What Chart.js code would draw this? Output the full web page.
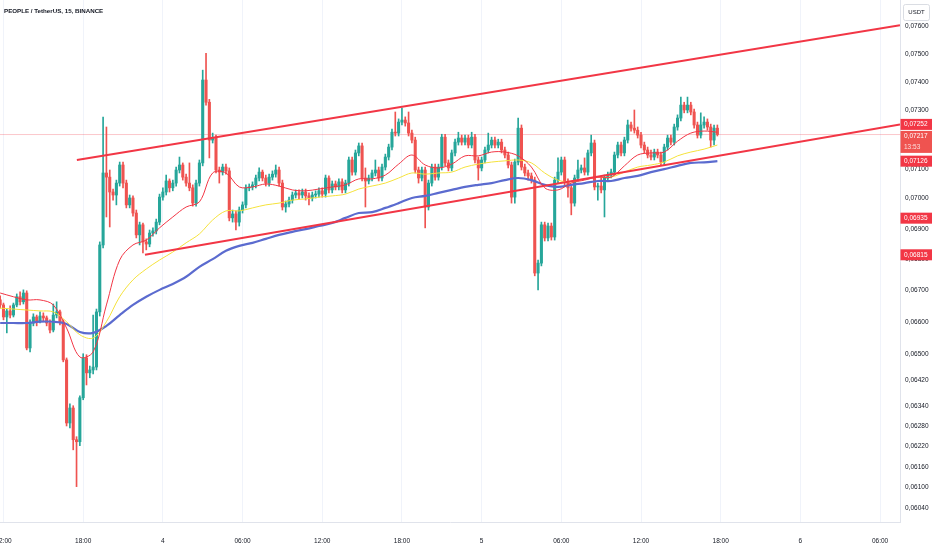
<!DOCTYPE html>
<html>
<head>
<meta charset="utf-8">
<title>PEOPLE / TetherUS, 15, BINANCE</title>
<script src="https://cdn.jsdelivr.net/npm/chart.js@4.4.1/dist/chart.umd.min.js"></script>
<style>
  html, body { margin: 0; padding: 0; background: #ffffff; }
  #wrap { width: 932px; height: 550px; position: relative; }
</style>
</head>
<body>
<div id="wrap"><canvas id="myChart"></canvas></div>
<script>
// 15 min candles, candle index 0 = 12:00 on the 3rd
const chartTitle = 'PEOPLE / TetherUS, 15, BINANCE';
const firstIndex = -1;

const opens = [
  0.06670,0.06654,0.06616,0.06635,0.06622,0.06654,0.06680,0.06664,0.06692,0.06519,
  0.06597,0.06616,0.06604,0.06619,0.06613,0.06597,0.06575,0.06622,0.06632,0.06601,
  0.06482,0.06290,0.06335,0.06240,0.06234,0.06366,0.06488,0.06442,0.06451,0.06460,
  0.06632,0.06847,0.07086,0.07072,0.07022,0.07012,0.07052,0.07113,0.07052,0.06979,
  0.07002,0.06952,0.06880,0.06913,0.06857,0.06850,0.06886,0.06893,0.06922,0.07005,
  0.07022,0.07059,0.07036,0.07052,0.07096,0.07113,0.07072,0.07052,0.07036,0.06985,
  0.07052,0.07120,0.07407,0.07329,0.07198,0.07205,0.07096,0.07089,0.07106,0.07093,
  0.06936,0.06949,0.06922,0.06962,0.06979,0.07036,0.07039,0.07046,0.07069,0.07089,
  0.07069,0.07052,0.07072,0.07082,0.07096,0.07052,0.06972,0.06982,0.06995,0.07012,
  0.07019,0.07012,0.07022,0.07009,0.07002,0.07012,0.07015,0.07026,0.07015,0.07069,
  0.07029,0.07049,0.07039,0.07056,0.07029,0.07052,0.07130,0.07089,0.07154,0.07178,
  0.07069,0.07059,0.07069,0.07086,0.07096,0.07069,0.07106,0.07140,0.07174,0.07225,
  0.07222,0.07260,0.07267,0.07257,0.07222,0.07198,0.07096,0.07069,0.07096,0.06972,
  0.07052,0.07106,0.07072,0.07106,0.07208,0.07120,0.07103,0.07154,0.07191,0.07205,
  0.07191,0.07205,0.07181,0.07208,0.07130,0.07103,0.07130,0.07164,0.07181,0.07198,
  0.07181,0.07191,0.07164,0.07147,0.07113,0.07005,0.07123,0.07239,0.07106,0.07086,
  0.07076,0.07062,0.06756,0.06788,0.06913,0.06870,0.06909,0.06873,0.07062,0.07089,
  0.07130,0.07056,0.07036,0.06985,0.07069,0.07096,0.07103,0.07089,0.07154,0.07188,
  0.07039,0.07042,0.07029,0.07069,0.07079,0.07089,0.07147,0.07181,0.07154,0.07198,
  0.07250,0.07239,0.07232,0.07215,0.07181,0.07164,0.07147,0.07140,0.07157,0.07147,
  0.07123,0.07174,0.07205,0.07191,0.07243,0.07274,0.07319,0.07302,0.07319,0.07295,
  0.07250,0.07215,0.07250,0.07260,0.07243,0.07198,0.07239
];
const highs = [
  0.06683,0.06660,0.06641,0.06651,0.06660,0.06689,0.06696,0.06702,0.06699,0.06607,
  0.06626,0.06622,0.06632,0.06629,0.06619,0.06607,0.06657,0.06664,0.06638,0.06607,
  0.06488,0.06348,0.06342,0.06249,0.06372,0.06501,0.06498,0.06463,0.06622,0.06641,
  0.06857,0.07277,0.07243,0.07096,0.07032,0.07062,0.07123,0.07123,0.07062,0.07012,
  0.07009,0.06962,0.06922,0.06919,0.06867,0.06896,0.06903,0.06932,0.07015,0.07036,
  0.07079,0.07066,0.07062,0.07106,0.07140,0.07120,0.07082,0.07120,0.07046,0.07062,
  0.07130,0.07442,0.07502,0.07339,0.07222,0.07215,0.07106,0.07116,0.07116,0.07103,
  0.06962,0.06959,0.06972,0.06989,0.07046,0.07049,0.07056,0.07079,0.07103,0.07096,
  0.07079,0.07082,0.07093,0.07113,0.07106,0.07062,0.06992,0.07005,0.07022,0.07029,
  0.07029,0.07032,0.07032,0.07019,0.07022,0.07026,0.07036,0.07036,0.07079,0.07076,
  0.07059,0.07059,0.07066,0.07066,0.07062,0.07140,0.07140,0.07164,0.07188,0.07188,
  0.07103,0.07079,0.07096,0.07130,0.07106,0.07116,0.07150,0.07184,0.07236,0.07295,
  0.07271,0.07309,0.07278,0.07295,0.07232,0.07208,0.07106,0.07106,0.07106,0.07062,
  0.07116,0.07116,0.07116,0.07218,0.07218,0.07130,0.07164,0.07201,0.07225,0.07215,
  0.07215,0.07215,0.07225,0.07218,0.07140,0.07140,0.07174,0.07222,0.07208,0.07208,
  0.07201,0.07201,0.07174,0.07157,0.07123,0.07133,0.07274,0.07250,0.07116,0.07096,
  0.07086,0.07072,0.06798,0.06922,0.06922,0.06919,0.06919,0.07072,0.07137,0.07140,
  0.07140,0.07066,0.07046,0.07079,0.07130,0.07113,0.07137,0.07164,0.07215,0.07198,
  0.07052,0.07072,0.07079,0.07089,0.07099,0.07157,0.07191,0.07191,0.07208,0.07267,
  0.07260,0.07302,0.07243,0.07225,0.07191,0.07174,0.07164,0.07167,0.07167,0.07157,
  0.07184,0.07215,0.07215,0.07253,0.07285,0.07347,0.07329,0.07347,0.07329,0.07305,
  0.07260,0.07292,0.07278,0.07271,0.07253,0.07250,0.07250
];
const lows = [
  0.06644,0.06607,0.06566,0.06613,0.06616,0.06648,0.06654,0.06657,0.06513,0.06507,
  0.06588,0.06588,0.06597,0.06601,0.06588,0.06566,0.06569,0.06613,0.06591,0.06476,
  0.06281,0.06275,0.06210,0.06102,0.06222,0.06360,0.06405,0.06427,0.06439,0.06451,
  0.06619,0.06837,0.06939,0.06906,0.06995,0.06979,0.07042,0.07036,0.06969,0.06969,
  0.06942,0.06870,0.06847,0.06821,0.06831,0.06841,0.06876,0.06883,0.06913,0.06995,
  0.07012,0.07022,0.07026,0.07042,0.07086,0.07062,0.07042,0.07026,0.06975,0.06975,
  0.07042,0.07110,0.07319,0.07137,0.07188,0.07086,0.07052,0.07079,0.07082,0.06926,
  0.06922,0.06896,0.06909,0.06952,0.06969,0.07026,0.07029,0.07036,0.07059,0.07059,
  0.07042,0.07042,0.07062,0.07072,0.07042,0.06962,0.06955,0.06972,0.06985,0.07002,
  0.06999,0.07002,0.06995,0.06979,0.06992,0.07002,0.07005,0.07005,0.07005,0.07019,
  0.07019,0.07029,0.07029,0.07019,0.07019,0.07042,0.07079,0.07079,0.07144,0.07059,
  0.06972,0.07049,0.07059,0.07076,0.07059,0.07059,0.07096,0.07130,0.07164,0.07212,
  0.07212,0.07250,0.07246,0.07212,0.07188,0.07086,0.07052,0.07059,0.06903,0.06962,
  0.07042,0.07062,0.07062,0.07096,0.07110,0.07093,0.07093,0.07144,0.07181,0.07181,
  0.07181,0.07171,0.07171,0.07120,0.07062,0.07093,0.07120,0.07154,0.07171,0.07171,
  0.07171,0.07154,0.07137,0.07103,0.06985,0.06985,0.07113,0.07096,0.07076,0.07062,
  0.07052,0.06747,0.06702,0.06779,0.06860,0.06860,0.06863,0.06863,0.07052,0.07079,
  0.07046,0.07005,0.06946,0.06975,0.07059,0.07086,0.07079,0.07079,0.07144,0.07029,
  0.06995,0.07019,0.06939,0.07059,0.07069,0.07079,0.07137,0.07144,0.07144,0.07188,
  0.07229,0.07222,0.07205,0.07171,0.07154,0.07137,0.07130,0.07130,0.07137,0.07113,
  0.07113,0.07164,0.07181,0.07181,0.07232,0.07264,0.07292,0.07292,0.07285,0.07239,
  0.07205,0.07205,0.07239,0.07232,0.07174,0.07181,0.07212
];
const closes = [
  0.06654,0.06616,0.06635,0.06622,0.06654,0.06680,0.06664,0.06692,0.06519,0.06597,
  0.06616,0.06604,0.06619,0.06613,0.06597,0.06575,0.06622,0.06632,0.06601,0.06482,
  0.06290,0.06335,0.06240,0.06234,0.06366,0.06488,0.06442,0.06451,0.06460,0.06632,
  0.06847,0.07086,0.07072,0.07022,0.07012,0.07052,0.07113,0.07052,0.06979,0.07002,
  0.06952,0.06880,0.06913,0.06857,0.06850,0.06886,0.06893,0.06922,0.07005,0.07022,
  0.07059,0.07036,0.07052,0.07096,0.07113,0.07072,0.07052,0.07036,0.06985,0.07052,
  0.07120,0.07407,0.07329,0.07198,0.07205,0.07096,0.07089,0.07106,0.07093,0.06936,
  0.06949,0.06922,0.06962,0.06979,0.07036,0.07039,0.07046,0.07069,0.07089,0.07069,
  0.07052,0.07072,0.07082,0.07096,0.07052,0.06972,0.06982,0.06995,0.07012,0.07019,
  0.07012,0.07022,0.07009,0.07002,0.07012,0.07015,0.07026,0.07015,0.07069,0.07029,
  0.07049,0.07039,0.07056,0.07029,0.07052,0.07130,0.07089,0.07154,0.07178,0.07069,
  0.07059,0.07069,0.07086,0.07096,0.07069,0.07106,0.07140,0.07174,0.07225,0.07222,
  0.07260,0.07267,0.07257,0.07222,0.07198,0.07096,0.07069,0.07096,0.06972,0.07052,
  0.07106,0.07072,0.07106,0.07208,0.07120,0.07103,0.07154,0.07191,0.07205,0.07191,
  0.07205,0.07181,0.07208,0.07130,0.07103,0.07130,0.07164,0.07181,0.07198,0.07181,
  0.07191,0.07164,0.07147,0.07113,0.07005,0.07123,0.07239,0.07106,0.07086,0.07076,
  0.07062,0.06756,0.06788,0.06913,0.06870,0.06909,0.06873,0.07062,0.07089,0.07130,
  0.07056,0.07036,0.06985,0.07069,0.07096,0.07103,0.07089,0.07154,0.07188,0.07039,
  0.07042,0.07029,0.07069,0.07079,0.07089,0.07147,0.07181,0.07154,0.07198,0.07250,
  0.07239,0.07232,0.07215,0.07181,0.07164,0.07147,0.07140,0.07157,0.07147,0.07123,
  0.07174,0.07205,0.07191,0.07243,0.07274,0.07319,0.07302,0.07319,0.07295,0.07250,
  0.07215,0.07250,0.07260,0.07243,0.07198,0.07239,0.07217
];

// moving averages (every 4th candle from firstIndex)
const maFast = [
  0.06692,0.06680,0.06670,0.06670,0.06654,0.06581,0.06491,0.06507,0.06654,0.06798,
  0.06847,0.06863,0.06903,0.06939,0.06972,0.06989,0.07086,0.07086,0.07039,0.07039,
  0.07049,0.07042,0.07029,0.07026,0.07032,0.07039,0.07046,0.07066,0.07066,0.07079,
  0.07116,0.07147,0.07113,0.07103,0.07116,0.07144,0.07144,0.07157,0.07157,0.07144,
  0.07106,0.07036,0.07029,0.07052,0.07062,0.07072,0.07072,0.07110,0.07147,0.07154,
  0.07157,0.07194,0.07222,0.07229,0.07225
];
const maMid = [
  0.06644,0.06641,0.06638,0.06635,0.06632,0.06601,0.06560,0.06550,0.06601,0.06680,
  0.06734,0.06769,0.06798,0.06824,0.06854,0.06883,0.06929,0.06959,0.06959,0.06969,
  0.06979,0.06985,0.06995,0.06999,0.07005,0.07009,0.07015,0.07032,0.07042,0.07052,
  0.07069,0.07086,0.07082,0.07086,0.07089,0.07106,0.07116,0.07123,0.07127,0.07130,
  0.07120,0.07086,0.07062,0.07056,0.07066,0.07072,0.07072,0.07089,0.07106,0.07113,
  0.07123,0.07144,0.07157,0.07167,0.07181
];
const maSlow = [
  0.06597,0.06597,0.06597,0.06601,0.06601,0.06594,0.06569,0.06566,0.06588,0.06622,
  0.06654,0.06680,0.06702,0.06721,0.06744,0.06776,0.06801,0.06828,0.06844,0.06854,
  0.06867,0.06880,0.06890,0.06899,0.06909,0.06919,0.06936,0.06952,0.06955,0.06969,
  0.06985,0.07002,0.07009,0.07019,0.07029,0.07039,0.07046,0.07052,0.07062,0.07069,
  0.07062,0.07046,0.07039,0.07046,0.07052,0.07059,0.07059,0.07069,0.07076,0.07089,
  0.07099,0.07110,0.07120,0.07122,0.07126
];

// channel lines as [candle index, price]
const upperLine = [[22.1, 0.07130], [270, 0.07603]];
const lowerLine = [[42.6, 0.06815], [270, 0.07252]];
const lastPrice = 0.07217;
const countdown = '13:53';
const priceTags = [0.07252, 0.07217, 0.07126, 0.06935, 0.06815];
const currency = 'USDT';

const xTickIdx = [0, 24, 48, 72, 96, 120, 144, 168, 192, 216, 240, 264];
const xTickLabels = ['12:00', '18:00', '4', '06:00', '12:00', '18:00', '5', '06:00', '12:00', '18:00', '6', '06:00'];
const yTicks = [0.0760, 0.0750, 0.0740, 0.0730, 0.0720, 0.0710, 0.0700, 0.0690, 0.0680, 0.0670,
                0.0660, 0.0650, 0.0642, 0.0634, 0.0628, 0.0622, 0.0616, 0.0610, 0.0604];

const xMin = -1.05, xMax = 270;
const yMin = 0.0600, yMax = 0.07695;

const FONT = '"Liberation Sans", Arial, sans-serif';
const GREEN = '#26a69a', RED = '#ef5350', LINE_RED = '#f23645';

const candleX = closes.map((c, i) => firstIndex + i);
const candleColors = closes.map((c, i) => c >= opens[i] ? GREEN : RED);
const maX = maFast.map((v, k) => firstIndex + 4 * k);

function maLine(vals, color, width, order) {
    return {
        type: 'line',
        data: vals.map((y, k) => ({ x: maX[k], y: y })),
        borderColor: color,
        borderWidth: width,
        pointRadius: 0,
        tension: 0.35,
        order: order
    };
}
function trendLine(pts) {
    return {
        type: 'line',
        data: pts.map(p => ({ x: p[0], y: p[1] })),
        borderColor: LINE_RED,
        borderWidth: 2,
        pointRadius: 0,
        order: 1
    };
}

// title, currency box and the red price tags on the axis
const overlay = {
    id: 'overlay',
    afterDraw(chart) {
        const ctx = chart.ctx;
        const ys = chart.scales.y;
        ctx.save();
        ctx.font = 'bold 6.2px ' + FONT;
        ctx.fillStyle = '#131722';
        ctx.textAlign = 'left';
        ctx.textBaseline = 'middle';
        ctx.fillText(chartTitle, 4, 11);

        ctx.fillStyle = '#ffffff';
        ctx.strokeStyle = '#d1d4dc';
        ctx.lineWidth = 0.8;
        ctx.beginPath();
        ctx.roundRect(903.5, 4.5, 26, 16, 2);
        ctx.fill();
        ctx.stroke();
        ctx.fillStyle = '#131722';
        ctx.font = '6px ' + FONT;
        ctx.textAlign = 'center';
        ctx.fillText(currency, 916.5, 12.5);

        let prevBottom = -Infinity;
        ctx.textAlign = 'left';
        priceTags.forEach(p => {
            const isLast = p === lastPrice;
            const h = isLast ? 22 : 11;
            let top = ys.getPixelForValue(p) - 5.5;
            if (top < prevBottom + 1) top = prevBottom + 1;
            prevBottom = top + h;
            ctx.fillStyle = isLast ? RED : LINE_RED;
            ctx.fillRect(900.5, top, 31.5, h);
            ctx.fillStyle = '#ffffff';
            ctx.font = '6.5px ' + FONT;
            ctx.fillText(p.toFixed(5).replace('.', ','), 904, top + 5.8);
            if (isLast) {
                ctx.fillStyle = 'rgba(255,255,255,0.8)';
                ctx.fillText(countdown, 904, top + 16);
            }
        });
        ctx.restore();
    }
};

function myLoadFunction() {
    const ctx = document.getElementById('myChart').getContext('2d');
    const myChartConfig = {
        type: 'bar',
        data: {
            datasets: [
                trendLine(upperLine),
                trendLine(lowerLine),
                maLine(maFast, LINE_RED, 1, 2),
                maLine(maMid, '#f5e23b', 1, 3),
                maLine(maSlow, '#5b6bcf', 2.2, 4),
                {
                    type: 'bar',
                    data: candleX.map((x, i) => ({ x: x, y: [opens[i], closes[i]] })),
                    backgroundColor: candleColors,
                    barThickness: 2.4,
                    minBarLength: 1,
                    grouped: false,
                    order: 5
                },
                {
                    type: 'bar',
                    data: candleX.map((x, i) => ({ x: x, y: [lows[i], highs[i]] })),
                    backgroundColor: candleColors,
                    barThickness: 1,
                    grouped: false,
                    order: 6
                },
                {
                    type: 'line',
                    data: [{ x: xMin, y: lastPrice }, { x: xMax, y: lastPrice }],
                    borderColor: 'rgba(242,54,69,0.28)',
                    borderWidth: 1,
                    pointRadius: 0,
                    order: 7
                }
            ]
        },
        options: {
            responsive: true,
            maintainAspectRatio: false,
            animation: false,
            events: [],
            layout: { padding: 0 },
            plugins: { legend: { display: false }, tooltip: { enabled: false } },
            scales: {
                x: {
                    type: 'linear',
                    min: xMin,
                    max: xMax,
                    offset: false,
                    grid: { color: '#f0f3fa', drawTicks: false, offset: false },
                    border: { color: '#e0e3eb' },
                    afterBuildTicks: s => { s.ticks = xTickIdx.map(v => ({ value: v })); },
                    afterFit: s => { s.height = 28; s.paddingLeft = 0; s.paddingRight = 0; },
                    ticks: {
                        autoSkip: false,
                        maxRotation: 0,
                        padding: 15,
                        color: '#131722',
                        font: { family: FONT, size: 6.5 },
                        callback: (v, i) => xTickLabels[i]
                    }
                },
                y: {
                    type: 'logarithmic',
                    position: 'right',
                    min: yMin,
                    max: yMax,
                    grid: { color: 'rgba(0,0,0,0)', drawTicks: false },
                    border: { color: '#e0e3eb' },
                    afterBuildTicks: s => { s.ticks = yTicks.map(v => ({ value: v })); },
                    afterFit: s => { s.width = 32; s.paddingTop = 0; s.paddingBottom = 0; },
                    ticks: {
                        padding: 5,
                        color: '#131722',
                        font: { family: FONT, size: 6.5 },
                        callback: v => Number(v).toFixed(5).replace('.', ',')
                    }
                }
            }
        },
        plugins: [overlay]
    };
    const myChart = new Chart(ctx, myChartConfig);
}

document.addEventListener('DOMContentLoaded', myLoadFunction);
</script>
</body>
</html>
